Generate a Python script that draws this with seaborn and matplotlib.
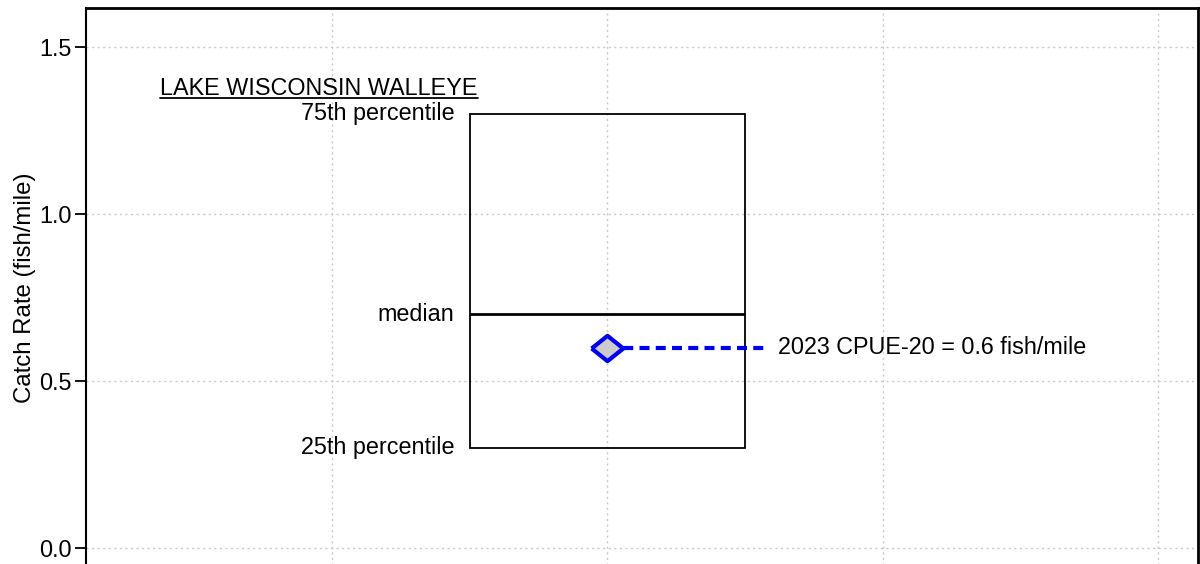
import numpy as np
import matplotlib
matplotlib.use("Agg")
import matplotlib.pyplot as plt
import seaborn as sns
import pandas as pd
from matplotlib.lines import Line2D

# ---- data ----
lake_title = "LAKE WISCONSIN WALLEYE"
box_position = [2.0]
pct25 = [0.3]
median = [0.7]
pct75 = [1.3]
cpue_value = [0.6]
cpue_label = "2023 CPUE-20 = 0.6 fish/mile"
percentile_labels = ["75th percentile", "median", "25th percentile"]
y_ticks = [0.0, 0.5, 1.0, 1.5]
x_grid = [1, 2, 3, 4]
y_label = "Catch Rate (fish/mile)"

sns.set_theme(style="white")
plt.rcParams['font.family'] = ['Liberation Sans', 'DejaVu Sans']
plt.rcParams['text.color'] = 'black'
plt.rcParams['axes.labelcolor'] = 'black'
plt.rcParams['xtick.color'] = 'black'
plt.rcParams['ytick.color'] = 'black'

FS = 16.8
W, H = 1200, 564
fig = plt.figure(figsize=(W / 100, H / 100), dpi=100)
# axes spanning pixel x 86..1198, y 8..600 (bottom cut off like reference)
ax = fig.add_axes([86 / W, 1 - 600 / H, 1112 / W, 592 / H])

px_per_unit_y = 334.0
ytop = 1.5 + 39 / px_per_unit_y
ybot = ytop - 592 / px_per_unit_y
px_per_unit_x = 275.3
xleft = 1 - (332 - 86) / px_per_unit_x
xright = xleft + 1112 / px_per_unit_x
ax.set_xlim(xleft, xright)
ax.set_ylim(ybot, ytop)

# box from percentile stats
stats = [dict(med=median[0], q1=pct25[0], q3=pct75[0], whislo=pct25[0], whishi=pct75[0],
              fliers=[])]
ax.bxp(stats, positions=box_position, widths=1.0, showcaps=False, showfliers=False,
       patch_artist=True,
       boxprops=dict(facecolor="none", edgecolor="black", linewidth=1.3),
       medianprops=dict(color="black", linewidth=2),
       whiskerprops=dict(linewidth=0), manage_ticks=False, zorder=3)

# dashed connector and diamond
conn = pd.DataFrame({"x": [box_position[0], 2.573], "y": [cpue_value[0], cpue_value[0]]})
sns.lineplot(data=conn, x="x", y="y", ax=ax, color="#0000ee", linewidth=3,
             dashes=False, zorder=4)
ax.lines[-1].set_dashes([2.4, 1.5])
pt = pd.DataFrame({"x": box_position, "y": cpue_value})
diamond = [(-1, 0), (0, 0.8), (1, 0), (0, -0.8), (-1, 0)]
sns.scatterplot(data=pt, x="x", y="y", ax=ax, marker=diamond, s=520,
                color="#cccccc", edgecolor="#0000ee", linewidth=3, zorder=5)

ax.text(2.62, cpue_value[0], cpue_label, fontsize=FS, va="center", ha="left")

# percentile labels
lx = box_position[0] - 0.5 - 0.055
ax.text(lx, pct75[0], percentile_labels[0], fontsize=FS, ha="right", va="center")
ax.text(lx, median[0], percentile_labels[1], fontsize=FS, ha="right", va="center")
ax.text(lx, pct25[0], percentile_labels[2], fontsize=FS, ha="right", va="center")

# title (underlined)
t = ax.text((160 - 86) / px_per_unit_x + xleft, 1.377, lake_title, fontsize=FS,
            ha="left", va="center")
fig.canvas.draw()
bb = t.get_window_extent().transformed(ax.transData.inverted())
ax.add_line(Line2D([bb.x0, bb.x1], [bb.y0 + 0.004, bb.y0 + 0.004], color="black",
                   linewidth=1.3))

# grid & ticks
ax.set_xticks(x_grid)
ax.set_xticklabels([])
ax.set_yticks(y_ticks)
ax.set_yticklabels([f"{v:.1f}" for v in y_ticks], fontsize=FS)
ax.grid(True, color="#c8c8c8", linestyle=(0, (1.5, 2.5)), linewidth=1)
ax.set_axisbelow(True)
ax.tick_params(axis="y", left=True, length=8, width=1.3, color="black", pad=2)
ax.tick_params(axis="x", bottom=True, length=8, width=1.3, color="black")
ax.set_xlabel("")
ax.set_ylabel(y_label, fontsize=FS + 0.5)
ax.yaxis.set_label_coords(-50 / 1112, 1 - (288 - 8) / 592)
for s in ax.spines.values():
    s.set_color("black")
    s.set_linewidth(1.5)
ax.spines["top"].set_linewidth(2)
ax.spines["right"].set_linewidth(2)

fig.savefig("out.png", dpi=100)
